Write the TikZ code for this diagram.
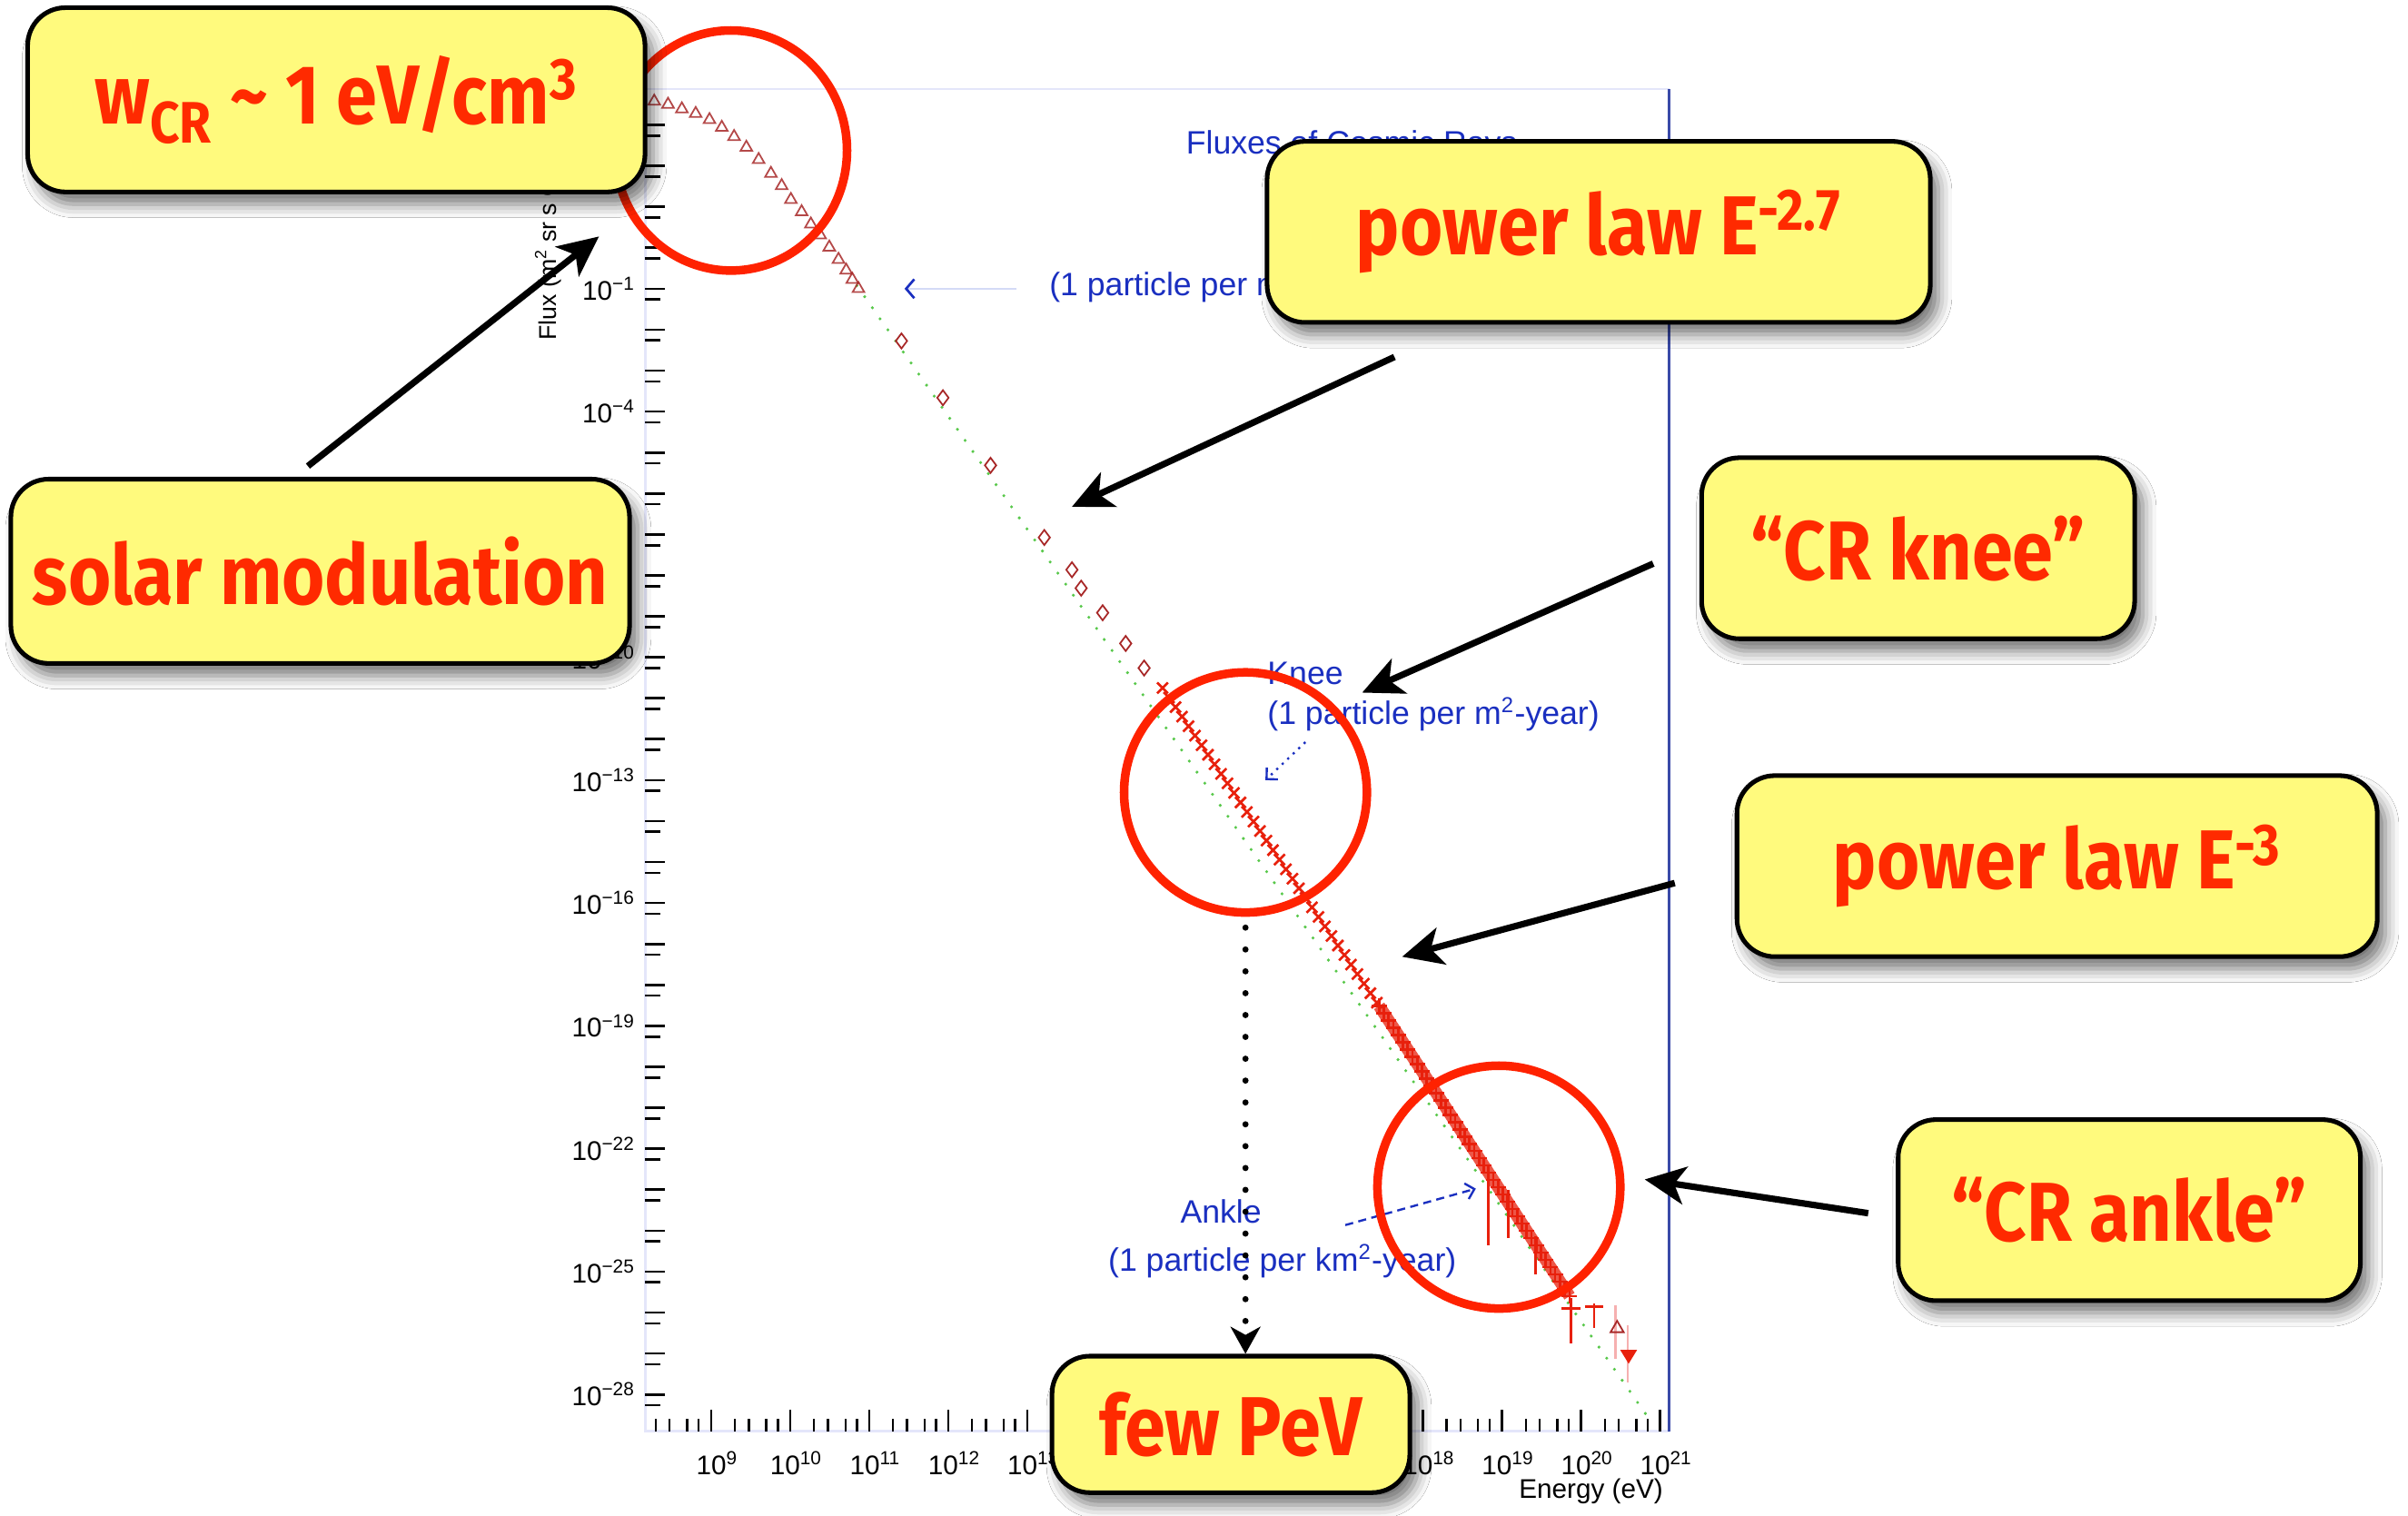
\documentclass[tikz,border=0pt]{standalone}
\usepackage{fontspec}
\usepackage{graphicx}
\setmainfont{Liberation Sans}
\newfontfamily\chalk{Fira Sans}
\usetikzlibrary{arrows.meta,calc,shapes.geometric,plotmarks,shadows.blur}
\definecolor{noteyellow}{HTML}{FFFA7D}
\definecolor{notered}{HTML}{FF2A00}
\definecolor{ringred}{HTML}{FF2200}
\definecolor{plotblue}{HTML}{1A2FC0}
\definecolor{paleblue}{HTML}{D4DAF6}
\definecolor{frameblue}{HTML}{3A4AA8}
\definecolor{axisgrey}{HTML}{E4E6FA}
\definecolor{datared}{HTML}{A82828}
\definecolor{crossred}{HTML}{E8200C}
\definecolor{errpink}{HTML}{F6B0B0}
\definecolor{fitgreen}{HTML}{58C84A}
\newcommand\narrow[1]{\scalebox{0.88}[1]{#1}}

\begin{document}
\begin{tikzpicture}[x=0.02cm, y=-0.02cm,
  note/.style={draw=black, line width=1.7pt, fill=noteyellow, rounded corners=14pt,
    inner sep=0pt, text=notered, font=\chalk\bfseries\fontsize{31}{34}\selectfont,
    blur shadow={shadow xshift=3pt, shadow yshift=-4.5pt, shadow blur radius=5pt, shadow opacity=55}},
  ring/.style={ellipse, draw=ringred, line width=3.2pt, inner sep=0pt},
  pointer/.style={line width=2.4pt, -{Stealth[length=15pt, width=14pt, inset=4pt]}},
  dotpointer/.style={line width=2.3pt, line cap=round, dash pattern=on 0pt off 8.1pt,
    -{Stealth[length=10pt, width=11pt, inset=3pt]}},
  plottext/.style={text=plotblue, font=\fontsize{12}{13}\selectfont, inner sep=0pt},
  ticklab/.style={font=\fontsize{10}{11}\selectfont, inner sep=0pt},
  crossmark/.style={crossred, line width=0.9pt},
]
  \useasboundingbox (0,0) rectangle (1568,987);
  \fill[white] (0,0) rectangle (1568,987);

  % ── plot frame ──
  \draw[axisgrey, line width=0.8pt] (420,58) -- (1087,58);
  \draw[axisgrey, line width=1pt] (420,58) -- (420,932) -- (1087,932);
  \draw[frameblue, line width=1pt] (1087,58) -- (1087,932);

  % y ticks, one pair per decade
  \foreach \e in {-3,...,28} {
    \pgfmathsetmacro\yy{188+(\e-1)*26.667}
    \draw[line width=0.9pt] (420,\yy) -- (433,\yy);
    \draw[line width=0.9pt] (420,\yy+7) -- (430,\yy+7);
  }
  \foreach \e in {1,4,10,13,...,28}
    \node[ticklab, anchor=east] (ylab\e) at (414,{188+(\e-1)*26.667}) {10\textsuperscript{−\e}};

  % x ticks (log minor ticks)
  \foreach \n in {8,...,21} {
    \foreach \k in {1,2,3,5,7} {
      \pgfmathsetmacro\xx{463+(\n-9+log10(\k))*51.5}
      \pgfmathsetmacro\tl{\k==1 ? 14 : 8}
      \ifdim\xx pt>421pt \ifdim\xx pt<1088pt
        \draw[line width=0.8pt] (\xx,932) -- (\xx,932-\tl);
      \fi\fi
    }
  }
  \foreach \n in {9,...,13,18,19,20,21}
    \node[ticklab] (xlab\n) at ({463+(\n-9)*51.5+4},953) {10\textsuperscript{\n}};
  \node[ticklab] (elab) at (1036,971) {Energy (eV)};
  \node[ticklab, rotate=90, anchor=west, font=\fontsize{9}{10}\selectfont] (ytitle) at (357,222)
    {Flux (m\textsuperscript{2} sr s GeV)\textsuperscript{−1}};

  % ── data ──
  \draw[fitgreen, line width=1.2pt, line cap=round, dash pattern=on 0pt off 5pt] (558,186) -- (1076,927);
  \draw[datared, line width=0.6pt, opacity=0.85] plot[only marks, mark=triangle, mark size=2.5pt] coordinates {
    (426,66) (435,68) (444,71) (453,74) (462,78) (470,83) (478,89) (486,96) (494,104) (502,113)
    (509,121) (515,130) (522,138) (528,146) (534,153) (540,161) (546,169) (551,176) (555,182) (559,188)};
  \draw[datared, line width=0.6pt] plot[only marks, mark=diamond, mark size=2.8pt] coordinates {
    (587,222) (614,259) (645,303) (680,350) (698,371) (704,383) (718,399) (733,419) (745,435)};
  \coordinate (kneeA) at (757,448);
  \coordinate (kneeB) at (898,655);
  \coordinate (kneeC) at (1022,844);
  \draw[crossred, line width=4.5pt, opacity=0.75] (kneeB) -- (kneeC);
  \foreach \t in {0,0.03,...,1}
    \draw[crossmark] ($(kneeA)!\t!(kneeB)$) +(-3.5,-3.5) -- +(3.5,3.5) +(-3.5,3.5) -- +(3.5,-3.5);
  \foreach \t in {0,0.025,...,1}
    \draw[crossmark] ($(kneeB)!\t!(kneeC)$) +(-5,0) -- +(5,0) +(0,-5) -- +(0,5);
  % error bars at the end
  \draw[crossmark] (969,762) -- (969,811) (982,775) -- (982,806) (1000,805) -- (1000,830)
    (1023,845) -- (1023,875) (1038,849) -- (1038,865);
  \draw[crossmark] (1017,852) -- (1029,852) (1032,851) -- (1044,851);
  \draw[errpink, line width=0.8pt] (1052,850) -- (1052,885) (1060,863) -- (1060,900);
  \draw[datared, line width=0.6pt] plot[only marks, mark=triangle, mark size=2.8pt] coordinates {(1053,865)};
  \fill[crossred] (1055,879) -- (1066,879) -- (1060.5,888) -- cycle;

  % ── blue annotations of the plot ──
  \node[plottext, anchor=west] (title) at (772,95) {Fluxes of Cosmic Rays};
  \node[plottext, anchor=west] (persec) at (683,186) {(1 particle per m\textsuperscript{2}-second)};
  \coordinate (sectip) at (589,188);
  \draw[paleblue, line width=0.9pt, shorten <=12pt, -{Straight Barb[length=3pt, width=7pt, color=plotblue]}]
    (persec.west |- sectip) -- (sectip);
  \node[plottext, anchor=south west] (kneelab) at (825,446) {Knee};
  \node[plottext, anchor=west] (kneerate) at (825,465) {(1 particle per m\textsuperscript{2}-year)};
  \coordinate (kneedot) at (824,508);
  \draw[plotblue, line width=0.8pt, dotted, -{Straight Barb[length=3pt, width=6pt]}]
    ($(kneerate.south west)+(25,7)$) -- (kneedot);
  \node[plottext] (anklelab) at (795,789) {Ankle};
  \node[plottext] (anklerate) at (835,821) {(1 particle per km\textsuperscript{2}-year)};
  \coordinate (ankledash) at (961,774);
  \draw[plotblue, line width=0.8pt, dash pattern=on 3pt off 2pt, -{Straight Barb[length=3pt, width=6pt]}]
    ($(anklerate.north)+(41,-12)$) -- (ankledash);

  % ── red rings ──
  \node[ring, minimum width=86pt, minimum height=89pt] (solarring) at (476,98) {};
  \node[ring, minimum width=90pt, minimum height=89pt] (kneering) at (811,516) {};
  \node[ring, minimum width=90pt, minimum height=90pt] (anklering) at (976,773) {};

  % ── callouts ──
  \node[note, minimum width=228.8pt, minimum height=68.3pt] (density) at (219,65)
    {\narrow{w\textsubscript{CR} \textasciitilde{} 1 eV/cm\textsuperscript{3}}};
  \node[note, minimum width=245.8pt, minimum height=67.1pt] (slope) at (1041,151)
    {\narrow{power law E\textsuperscript{-2.7}}};
  \node[note, minimum width=160.5pt, minimum height=67.1pt] (knee) at (1249,357) {\narrow{“CR knee”}};
  \node[note, minimum width=229.3pt, minimum height=68.3pt] (solar) at (208.5,372) {\narrow{solar modulation}};
  \node[note, minimum width=237.3pt, minimum height=67.1pt] (steep) at (1339.5,564)
    {\narrow{power law E\textsuperscript{-3}}};
  \node[note, minimum width=171.3pt, minimum height=67.1pt] (ankle) at (1386.5,788) {\narrow{“CR ankle”}};
  \node[note, minimum width=132.6pt, minimum height=50.6pt] (pev) at (801.5,927.5) {\narrow{few PeV}};

  % ── pointers ──
  \coordinate (modtip) at (390,154);
  \coordinate (slopetip) at (698,330);
  \coordinate (kneetip) at (887,451);
  \coordinate (steeptip) at (913,623);
  \coordinate (ankletip) at (1071,768);
  \draw[pointer] ($(solar.north)+(-8,-7)$) -- (modtip);
  \draw[pointer] ($(slope.south)+(-133,21)$) -- (slopetip);
  \draw[pointer] ($(knee.west)+(-30,10)$) -- (kneetip);
  \draw[pointer] ($(steep.west)+(-39,11)$) -- (steeptip);
  \draw[pointer] ($(ankle.west)+(-18,2)$) -- (ankletip);
  \draw[dotpointer, shorten <=4pt] (kneering.south) -- (kneering.south |- pev.north);
\end{tikzpicture}
\end{document}
